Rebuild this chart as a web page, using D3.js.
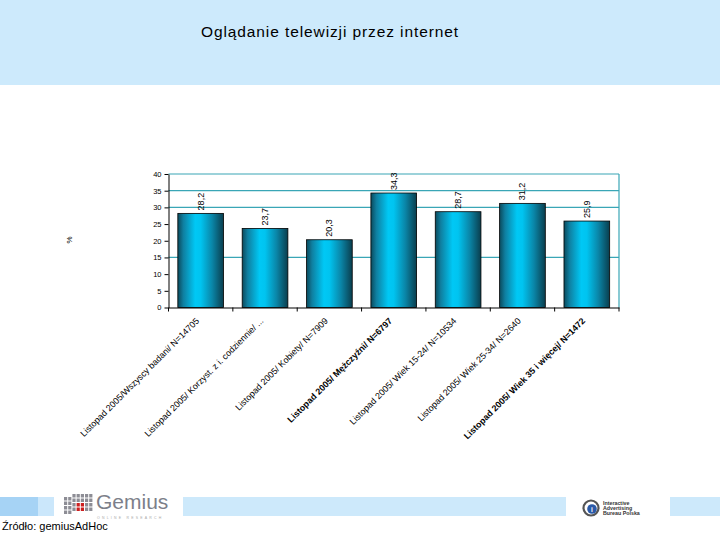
<!DOCTYPE html>
<html><head><meta charset="utf-8">
<script src="https://cdn.jsdelivr.net/npm/d3@7"></script>
<style>body{margin:0;background:#fff}svg{display:block}</style>
</head><body>
<svg id="c" width="720" height="540"></svg>
<script>
const title = "Oglądanie telewizji przez internet";
const categories = [
  "Listopad 2005/Wszyscy badani/ N=14705",
  "Listopad 2005/ Korzyst. z i. codziennie/ ...",
  "Listopad 2005/ Kobiety/ N=7909",
  "Listopad 2005/ Mężczyźni/ N=6797",
  "Listopad 2005/ Wiek 15-24/ N=10534",
  "Listopad 2005/ Wiek 25-34/ N=2640",
  "Listopad 2005/ Wiek 35 i więcej/ N=1472"
];
const boldCategories = [false, false, false, true, false, false, true];
const values = [28.2, 23.7, 20.3, 34.3, 28.7, 31.2, 25.9];
const yTicks = [0, 5, 10, 15, 20, 25, 30, 35, 40];
const gridValues = [15, 30, 35, 40];
const yLabel = "%";
const source = "Źródło: gemiusAdHoc";

(function(){
const svg = d3.select("#c");
const font = "Arial, 'Liberation Sans', sans-serif";

// header band
svg.append("rect").attr("x",0).attr("y",0).attr("width",720).attr("height",85).attr("fill","#cdeafc");
svg.append("text").attr("x",330).attr("y",37).attr("text-anchor","middle")
  .attr("font-family",font).attr("font-size",15.5).attr("letter-spacing",0.9).attr("fill","#000").text(title);

// footer decoration
svg.append("rect").attr("x",0).attr("y",497).attr("width",38).attr("height",19).attr("fill","#a6d3f5");
svg.append("rect").attr("x",38).attr("y",497).attr("width",16).attr("height",19).attr("fill","#cbe7fb");
svg.append("rect").attr("x",183).attr("y",497).attr("width",383).attr("height",19).attr("fill","#cde9fb");
svg.append("rect").attr("x",670).attr("y",497).attr("width",50).attr("height",19).attr("fill","#cde9fb");
// gemius logo
const lg = svg.append("g");
for (let r=0;r<4;r++) for (let c=0;c<7;c++){
  const red = (r>=2 && c>=3 && c<=4);
  lg.append("rect").attr("x",64+c*4.2).attr("y",494+r*4.5+(c<2?3:0)).attr("width",3.2).attr("height",3.5)
    .attr("fill", red ? "#cc1f1f" : "#8d8d95");
}
lg.append("text").attr("x",96).attr("y",509).attr("font-family",font).attr("font-size",21).attr("fill","#7d7f8a").text("Gemius");
lg.append("text").attr("x",97).attr("y",519).attr("font-family",font).attr("font-size",3.5).attr("letter-spacing",2.2).attr("fill","#aaa").text("ONLINE RESEARCH");
// IAB logo
const ia = svg.append("g");
ia.append("circle").attr("cx",591).attr("cy",508).attr("r",7.5).attr("fill","none").attr("stroke","#555").attr("stroke-width",2.2);
ia.append("circle").attr("cx",592).attr("cy",509).attr("r",4.8).attr("fill","#2b5aa8");
ia.append("text").attr("x",592).attr("y",512).attr("text-anchor","middle").attr("font-family",font).attr("font-size",6.5).attr("font-weight","bold").attr("fill","#fff").text("i");
["Interactive","Advertising","Bureau Polska"].forEach((t,i)=>{
  ia.append("text").attr("x",603).attr("y",505+i*5).attr("font-family",font).attr("font-size",5.3).attr("font-weight","bold").attr("fill","#333").text(t);
});
svg.append("text").attr("x",2).attr("y",530).attr("font-family",font).attr("font-size",11).attr("fill","#000").text(source);

// chart
const pLeft = 168.5, pRight = 619, pTop = 174, pBottom = 307.5;
const x = d3.scaleBand().domain(categories).range([pLeft, pRight]).paddingInner(0.29).paddingOuter(0.145);
const y = d3.scaleLinear().domain([0, 40]).range([pBottom, pTop]);

const defs = svg.append("defs");
const grad = defs.append("linearGradient").attr("id","barg").attr("x1","0").attr("x2","1").attr("y1","0").attr("y2","0");
[[0,"#0b4a5c"],[0.12,"#0f7fa0"],[0.38,"#00c8f5"],[0.5,"#00c4f0"],[0.75,"#0a86a8"],[1,"#0a3e4e"]].forEach(([o,c])=>
  grad.append("stop").attr("offset",o).attr("stop-color",c));

// grid
svg.append("g").selectAll("line").data(gridValues).join("line")
  .attr("x1",pLeft).attr("x2",pRight).attr("y1",d=>y(d)).attr("y2",d=>y(d))
  .attr("stroke","#3aa6b6").attr("stroke-width",1.2);
svg.append("line").attr("x1",pRight).attr("x2",pRight).attr("y1",pTop).attr("y2",pBottom)
  .attr("stroke","#3aa6b6").attr("stroke-width",1.2);

// bars
svg.append("g").selectAll("rect").data(values).join("rect")
  .attr("x",(d,i)=>x(categories[i])).attr("width",x.bandwidth())
  .attr("y",d=>y(d)).attr("height",d=>y(0)-y(d))
  .attr("fill","url(#barg)").attr("stroke","#000").attr("stroke-width",0.8);

// value labels
svg.append("g").selectAll("text").data(values).join("text")
  .attr("transform",(d,i)=>`translate(${x(categories[i])+x.bandwidth()/2+3},${y(d)-3}) rotate(-90)`)
  .attr("font-family",font).attr("font-size",9).attr("fill","#000")
  .text(d=>d.toFixed(1).replace(".",","));

// axes
const yAxis = d3.axisLeft(y).tickValues(yTicks).tickSize(4).tickSizeOuter(0).tickPadding(3);
const gy = svg.append("g").attr("transform",`translate(${pLeft},0)`).call(yAxis);
gy.selectAll("text").attr("font-family",font).attr("font-size",7.5).attr("fill","#000");
gy.selectAll("line,path").attr("stroke","#000");

const xAxis = d3.axisBottom(x).tickSize(0).tickFormat("");
const gx = svg.append("g").attr("transform",`translate(0,${pBottom})`).call(xAxis);
gx.selectAll("path").attr("stroke","#000");
// category boundary ticks
const bounds = categories.map(c=>x(c)-x.step()*x.paddingInner()/2);
bounds.push(pRight);
bounds[0] = pLeft;
svg.append("g").selectAll("line").data(bounds).join("line")
  .attr("x1",d=>d).attr("x2",d=>d).attr("y1",pBottom).attr("y2",pBottom+4).attr("stroke","#000");

// x labels
svg.append("g").selectAll("text").data(categories).join("text")
  .attr("transform",c=>`translate(${x(c)+x.bandwidth()/2-1},${pBottom+14}) rotate(-45)`)
  .attr("text-anchor","end")
  .attr("font-family",font).attr("font-size",8.9)
  .attr("font-weight",(c,i)=>boldCategories[i]?"bold":"normal")
  .attr("fill","#000").text(c=>c);

// y label
svg.append("text").attr("transform","translate(72,240) rotate(-90)").attr("text-anchor","middle")
  .attr("font-family",font).attr("font-size",8).attr("fill","#000").text(yLabel);
})();
</script>
</body></html>
